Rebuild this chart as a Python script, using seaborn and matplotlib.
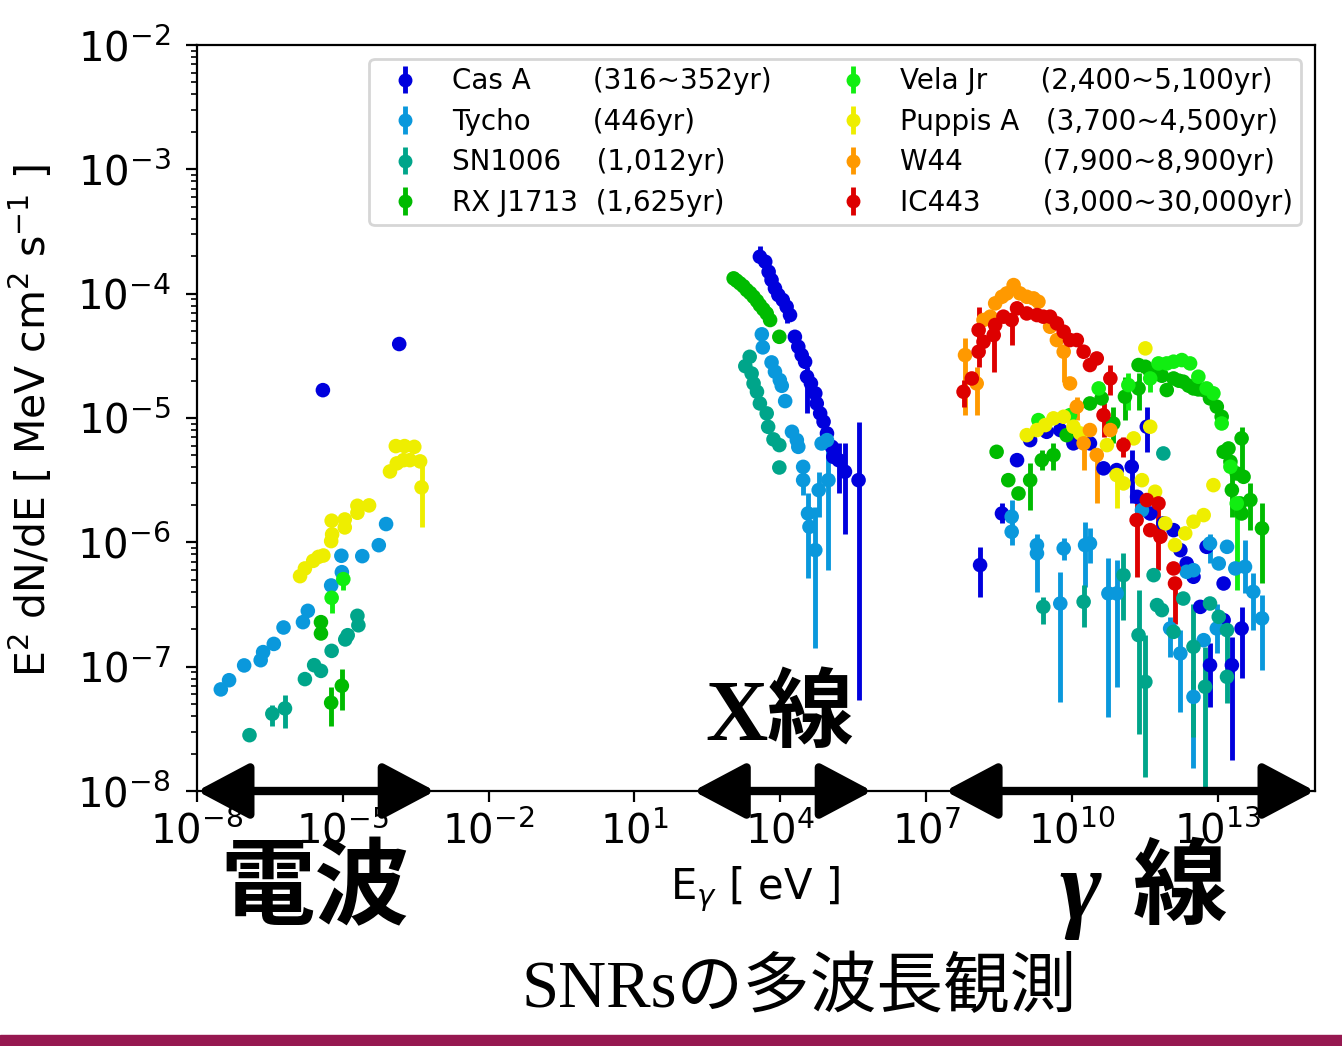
import numpy as np
import pandas as pd
import matplotlib
matplotlib.use("Agg")
import matplotlib.pyplot as plt
import seaborn as sns

# -------------------------------------------------------------------------
# Data (log10 E [eV], log10 E^2 dN/dE)
# -------------------------------------------------------------------------

SOURCES = ["Cas A", "Tycho", "SN1006", "RX J1713", "Vela Jr", "Puppis A", "W44", "IC443"]
AGES = ["(316~352yr)", "(446yr)", "(1,012yr)", "(1,625yr)",
        "(2,400~5,100yr)", "(3,700~4,500yr)", "(7,900~8,900yr)", "(3,000~30,000yr)"]
PAD = [7, 7, 4, 2, 6, 3, 9, 7]   # spaces between name and age in the legend
COLORS = ["#0000dd", "#0a98dc", "#00a58a", "#00bb00",
          "#11ee11", "#eeee00", "#ff9900", "#dd0000"]

casa_e = [-5.41, -3.84,
          3.58, 3.69, 3.76, 3.82, 3.89, 3.96, 4.05, 4.13, 4.20, 4.30, 4.37, 4.44, 4.51,
          4.55, 4.63, 4.72, 4.75, 4.82, 4.89, 4.96, 5.06, 5.09, 5.20, 5.33, 5.61,
          8.11, 8.56, 8.87, 9.14, 9.48, 9.76, 10.03, 10.37, 10.65, 10.92, 11.23, 11.34,
          11.54, 11.61, 11.88, 12.09, 12.23, 12.36, 12.50, 12.64, 12.77, 12.84, 13.12,
          13.12, 13.29, 13.49]
casa_f = [-4.776, -4.405,
          -3.703, -3.743, -3.824, -3.890, -3.957, -4.011, -4.051, -4.105, -4.172, -4.347,
          -4.427, -4.494, -4.548, -4.668, -4.722, -4.802, -4.883, -4.963, -5.030, -5.124,
          -5.232, -5.312, -5.339, -5.432, -5.500,
          -6.183, -5.768, -5.339, -5.178, -5.111, -5.097, -5.204, -5.204, -5.405, -5.419,
          -5.392, -5.634, -5.070, -5.768, -5.848, -5.902, -6.063, -6.170, -6.277, -6.519,
          -6.036, -6.988, -6.331, -6.626, -6.988, -6.693]
casa_bar_e = [3.58, 4.13, 4.55, 5.20, 5.33, 5.61, 8.11, 8.56, 11.23, 11.54, 12.84, 13.29, 13.49]
casa_bar_lo = [-3.75, -4.239, -4.963, -5.607, -5.929, -7.27, -6.438, -5.848, -5.687, -5.272,
               -7.323, -7.752, -7.095]
casa_bar_hi = [-3.62, -4.051, -4.588, -5.205, -5.205, -5.03, -6.036, -5.687, -5.258, -4.909,
               -6.813, -6.760, -6.518]

tycho_e = [-7.51, -7.34, -7.03, -6.69, -6.64, -6.42, -6.22, -5.82, -5.72, -5.24, -5.02,
           -5.03, -4.60, -4.26, -4.11,
           3.62, 3.64, 3.82, 3.89, 3.99, 4.03, 4.10, 4.24, 4.34, 4.37, 4.47, 4.47, 4.57,
           4.60, 4.72, 4.79, 4.85, 4.96, 4.99,
           8.76, 8.76, 9.28, 9.28, 9.83, 10.27, 10.37, 9.76, 10.75, 10.92, 11.44, 12.02,
           12.23, 12.50, 12.71, 12.84, 13.02, 13.19, 13.36, 13.56, 13.73, 13.91, 12.98,
           12.50, 12.36]
tycho_f = [-7.183, -7.109, -6.990, -6.948, -6.883, -6.817, -6.685, -6.642, -6.551, -6.347,
           -6.240, -6.108, -6.111, -6.023, -5.853,
           -4.327, -4.432, -4.553, -4.628, -4.695, -4.741, -4.864, -5.111, -5.178, -5.232,
           -5.393, -5.500, -5.768, -5.875, -6.063, -5.580, -5.205, -5.178, -5.500,
           -5.794, -5.915, -6.022, -6.089, -6.049, -6.022, -6.009, -6.492, -6.411, -6.411,
           -5.741, -6.693, -6.894, -7.243, -6.787, -6.009, -6.170, -6.036, -6.210, -6.197,
           -6.398, -6.612, -6.693, -6.224, -6.237]
tycho_bar_e = [4.47, 4.57, 4.72, 4.79, 4.99, 8.76, 9.28, 9.83, 10.27, 10.37, 9.76, 10.75,
               10.92, 12.02, 12.23, 12.50, 12.84, 13.56, 13.73, 13.91, 12.98]
tycho_bar_lo = [-5.62, -6.290, -6.85, -5.795, -6.22, -6.022, -6.398, -6.143, -6.358, -6.170,
                -7.283, -7.403, -7.162, -6.921, -7.363, -7.819, -6.170, -6.411, -6.706,
                -7.028, -6.894]
tycho_bar_hi = [-5.34, -5.607, -5.714, -5.433, -5.12, -5.660, -5.929, -5.969, -5.835, -5.888,
                -6.237, -6.130, -6.143, -6.599, -6.706, -7.028, -5.929, -5.982, -6.250,
                -6.425, -6.492]

sn1006_e = [-6.92, -6.45, -6.19, -5.78, -5.59, -5.45, -5.23, -4.95, -4.90, -4.68, -4.70,
            3.37, 3.28, 3.41, 3.45, 3.52, 3.58, 3.72, 3.75, 3.86, 3.98, 3.98,
            9.41, 10.24, 11.06, 11.37, 11.51, 11.68, 11.75, 11.88, 11.85, 12.09, 12.29,
            12.50, 12.74, 12.84, 13.02, 13.19, 13.19]
sn1006_f = [-7.551, -7.379, -7.336, -7.100, -6.988, -7.034, -6.873, -6.781, -6.747, -6.667,
            -6.591,
            -4.508, -4.583, -4.642, -4.722, -4.789, -4.883, -4.963, -5.071, -5.172, -5.218,
            -5.398,
            -6.519, -6.478, -6.264, -6.746, -7.122, -6.264, -6.505, -5.285, -6.545, -6.720,
            -6.452, -6.840, -7.162, -6.492, -6.599, -7.082, -6.706]
sn1006_bar_e = [-6.45, -6.19, 9.41, 10.24, 11.06, 11.37, 11.51, 12.50, 12.74, 13.19]
sn1006_bar_lo = [-7.48, -7.49, -6.653, -6.679, -6.626, -7.538, -7.886, -7.564, -7.967, -7.296]
sn1006_bar_hi = [-7.31, -7.23, -6.438, -6.344, -6.089, -6.384, -6.746, -6.492, -6.840, -6.626]

rxj_e = [-5.45, -5.45, -5.24, -5.02,
         3.04, 3.10, 3.17, 3.24, 3.31, 3.38, 3.45, 3.52, 3.58, 3.65, 3.72, 3.79, 3.98,
         8.45, 8.69, 8.90, 9.14, 9.38, 9.62, 9.89, 10.37, 10.61, 10.85, 11.09, 11.37, 11.37,
         11.51, 11.60, 11.75, 11.85, 11.95, 12.09, 12.20, 12.29, 12.40, 12.50, 12.60, 12.71,
         12.84, 12.98, 13.08, 13.12, 13.22, 13.26, 13.39, 13.49, 13.53, 13.67, 13.91, 13.29,
         13.46, 13.49]
rxj_f = [-6.642, -6.733, -7.290, -7.154,
         -3.877, -3.895, -3.917, -3.940, -3.971, -3.995, -4.025, -4.058, -4.092, -4.125,
         -4.159, -4.212, -4.347,
         -5.272, -5.500, -5.607, -5.500, -5.339, -5.298, -5.138, -4.883, -4.842, -5.044,
         -4.829, -4.762, -4.574, -4.588, -4.620, -4.641, -4.660, -4.775, -4.682, -4.700,
         -4.708, -4.740, -4.762, -4.770, -4.775, -4.842, -4.909, -4.990, -5.272, -5.245,
         -5.352, -5.446, -5.164, -5.473, -5.660, -5.888, -5.580, -5.687, -5.768]
rxj_bar_e = [-5.24, -5.02, 9.14, 9.38, 9.62, 10.85, 11.09, 11.37, 13.49, 13.67, 13.91, 13.29]
rxj_bar_lo = [-7.48, -7.35, -5.741, -5.419, -5.419, -5.204, -5.017, -4.936, -5.419, -5.902,
              -6.331, -5.794]
rxj_bar_hi = [-7.16, -7.02, -5.365, -5.258, -5.204, -4.909, -4.668, -4.641, -5.070, -5.526,
              -5.687, -5.419]

vela_e = [-5.23, -4.99,
          9.31, 9.96, 10.55, 11.16, 11.61, 11.78, 11.95, 12.09, 12.26, 12.43, 12.60, 12.77,
          12.91, 13.08, 13.26, 13.39]
vela_f = [-6.446, -6.296,
          -5.017, -4.977, -4.762, -4.735, -4.682, -4.561, -4.561, -4.547, -4.534, -4.561,
          -4.668, -4.762, -4.802, -5.044, -5.392, -5.687]
vela_bar_e = [-5.23, -4.99, 11.16, 11.61, 13.39]
vela_bar_lo = [-6.57, -6.38, -4.936, -4.789, -6.384]
vela_bar_hi = [-6.446, -6.296, -4.641, -4.680, -5.687]

puppis_e = [-5.88, -5.78, -5.61, -5.50, -5.40, -5.24, -5.22, -5.23, -4.96, -4.96, -4.70,
            -4.70, -4.46, -4.03, -3.89, -3.91, -3.73, -3.75, -3.62, -3.53, -3.41, -3.38,
            9.07, 9.28, 9.45, 9.62, 9.83, 10.03, 10.17, 10.72, 10.92, 11.06, 11.27, 11.44,
            11.51, 11.61, 11.71, 11.92, 12.12, 12.33, 12.50, 12.71, 12.91]
puppis_f = [-6.272, -6.210, -6.149, -6.117, -6.106, -5.990, -5.936, -5.826, -5.880, -5.816,
            -5.762, -5.706, -5.703, -5.430, -5.365, -5.226, -5.226, -5.339, -5.339, -5.232,
            -5.349, -5.558,
            -5.138, -5.097, -5.057, -5.003, -4.990, -5.070, -5.124, -5.218, -5.459, -5.526,
            -5.164, -5.500, -4.440, -5.070, -5.593, -5.848, -6.022, -5.928, -5.834, -5.781,
            -5.540]
puppis_bar_e = [-3.38, -3.91, -3.53, 10.92]
puppis_bar_lo = [-5.88, -5.26, -5.26, -5.727]
puppis_bar_hi = [-5.35, -5.20, -5.20, -5.459]

w44_e = [7.80, 8.04, 8.18, 8.32, 8.42, 8.56, 8.66, 8.80, 8.93, 9.07, 9.21, 9.31, 9.55,
         9.69, 9.83, 9.96, 10.10, 10.24, 10.37, 10.51, 10.79]
w44_f = [-4.494, -4.722, -4.212, -4.185, -4.078, -4.025, -3.998, -3.931, -3.998, -4.025,
         -4.038, -4.065, -4.266, -4.373, -4.467, -4.722, -4.909, -5.204, -5.097, -5.298,
         -5.097]
w44_bar_e = [7.80, 8.04, 9.83, 10.10, 10.24, 10.51]
w44_bar_lo = [-4.977, -4.977, -4.708, -5.017, -5.419, -5.687]
w44_bar_hi = [-4.360, -4.588, -4.467, -4.829, -5.151, -5.258]

ic443_e = [7.77, 7.94, 8.08, 8.08, 8.18, 8.39, 8.42, 8.59, 8.76, 8.87, 9.07, 9.28, 9.41,
           9.55, 9.69, 9.83, 9.96, 10.10, 10.24, 10.37, 10.51, 10.79, 10.65, 11.06, 11.33,
           11.54, 11.78, 11.61, 11.82, 12.09, 12.12]
ic443_f = [-4.789, -4.682, -4.467, -4.293, -4.387, -4.333, -4.252, -4.185, -4.212, -4.118,
           -4.159, -4.172, -4.185, -4.185, -4.239, -4.306, -4.373, -4.373, -4.467, -4.574,
           -4.521, -4.682, -4.977, -5.218, -5.821, -5.660, -5.687, -5.902, -5.955, -6.210,
           -6.331]
ic443_bar_e = [7.77, 8.08, 8.39, 8.76, 10.79, 10.65, 11.06, 11.33, 11.78, 12.12]
ic443_bar_lo = [-4.909, -4.588, -4.628, -4.413, -4.816, -5.151, -5.312, -6.277, -6.224, -6.653]
ic443_bar_hi = [-4.695, -4.105, -4.159, -4.212, -4.574, -4.883, -5.151, -5.634, -5.687, -6.331]

POINTS = [(casa_e, casa_f), (tycho_e, tycho_f), (sn1006_e, sn1006_f), (rxj_e, rxj_f),
          (vela_e, vela_f), (puppis_e, puppis_f), (w44_e, w44_f), (ic443_e, ic443_f)]
BARS = [(casa_bar_e, casa_bar_lo, casa_bar_hi), (tycho_bar_e, tycho_bar_lo, tycho_bar_hi),
        (sn1006_bar_e, sn1006_bar_lo, sn1006_bar_hi), (rxj_bar_e, rxj_bar_lo, rxj_bar_hi),
        (vela_bar_e, vela_bar_lo, vela_bar_hi), (puppis_bar_e, puppis_bar_lo, puppis_bar_hi),
        (w44_bar_e, w44_bar_lo, w44_bar_hi), (ic443_bar_e, ic443_bar_lo, ic443_bar_hi)]

# observing bands drawn as arrows on the energy axis (log10 eV)
BANDS = [(-8.0, -3.10), (2.21, 5.89), (7.39, 15.0)]

# -------------------------------------------------------------------------
# Plot
# -------------------------------------------------------------------------

sns.set_style("ticks")
plt.rcParams["font.family"] = ["DejaVu Sans", "Noto Sans CJK JP"]
plt.rcParams.update({"text.color": "black", "axes.labelcolor": "black",
                     "xtick.color": "black", "ytick.color": "black",
                     "axes.edgecolor": "black"})
SERIF_JP = ["Liberation Serif", "Noto Sans CJK JP"]

rows = []
for name, (le, lf) in zip(SOURCES, POINTS):
    for a, b in zip(le, lf):
        rows.append({"source": name, "E": 10 ** a, "F": 10 ** b})
df = pd.DataFrame(rows)

W, H = 1342, 1046
fig = plt.figure(figsize=(W / 100, H / 100), dpi=100)
ax = fig.add_axes([197 / W, 1 - 791 / H, 1118 / W, 746 / H])

for name, color, (be, blo, bhi) in zip(SOURCES, COLORS, BARS):
    ax.vlines(10 ** np.array(be), 10 ** np.array(blo), 10 ** np.array(bhi),
              color=color, lw=3.5, zorder=2)

sns.scatterplot(data=df, x="E", y="F", hue="source", hue_order=SOURCES,
                palette=COLORS, s=110, linewidth=0, legend=False, ax=ax, zorder=3)

# legend handles in errorbar style
for name, age, pad, color in zip(SOURCES, AGES, PAD, COLORS):
    ax.errorbar([np.nan], [np.nan], yerr=[1], fmt="o", color=color, ms=9,
                elinewidth=3.5, label=name + " " * pad + age)

ax.set_xscale("log")
ax.set_yscale("log")
ax.set_xlim(1e-8, 1e15)
ax.set_ylim(1e-8, 1e-2)
ax.set_xticks([10.0 ** k for k in range(-8, 14, 3)])
ax.xaxis.set_minor_locator(matplotlib.ticker.NullLocator())

for s in ax.spines.values():
    s.set_linewidth(1.6)
ax.tick_params(axis="both", which="major", labelsize=29, length=8, width=1.6,
               direction="out", pad=7)
ax.tick_params(axis="y", which="major", pad=11)
ax.tick_params(axis="y", which="minor", length=4.5, width=1.2)

ax.set_xlabel(r"E$_\gamma$ [ eV ]", fontsize=30)
ax.xaxis.set_label_coords(0.499, -0.098)
ax.set_ylabel(r"E$^2$ dN/dE [ MeV cm$^2$ s$^{-1}$ ]", fontsize=29.5)
ax.yaxis.set_label_coords(-0.127, 0.497)

leg = ax.legend(ncol=2, loc="upper right", fontsize=20, labelspacing=0.45,
                handlelength=2.0, handletextpad=0.7, columnspacing=1.9,
                borderpad=0.3, borderaxespad=0.5, frameon=True)
leg.get_frame().set_edgecolor("#cccccc")
leg.get_frame().set_linewidth(2)

for lo, hi in BANDS:
    ax.annotate("", xy=(10 ** hi, 1e-8), xytext=(10 ** lo, 1e-8),
                arrowprops=dict(arrowstyle="<|-|>,head_length=3.2,head_width=1.7",
                                mutation_scale=10, lw=6, color="black",
                                shrinkA=0, shrinkB=0),
                annotation_clip=False, zorder=5)

# band names and title
def ftext(x, y, s, size, **kw):
    fig.text(x / W, 1 - y / H, s, fontsize=size, ha="center", va="center", **kw)

ftext(315, 893, "電波", 68, family=SERIF_JP, weight="bold")
ftext(780, 718, "X線", 62, family=SERIF_JP, weight="bold")
ftext(1080, 895, "γ", 72, family=["Liberation Serif"], style="italic", weight="bold")
ftext(1180, 893, "線", 68, family=SERIF_JP, weight="bold")
ftext(799, 990, "SNRsの多波長観測", 48, family=SERIF_JP)

fig.patches.append(matplotlib.patches.Rectangle((0, 0), 1, 11 / H, transform=fig.transFigure,
                                                color="#961850", zorder=0))

fig.savefig("out.png", dpi=100)
